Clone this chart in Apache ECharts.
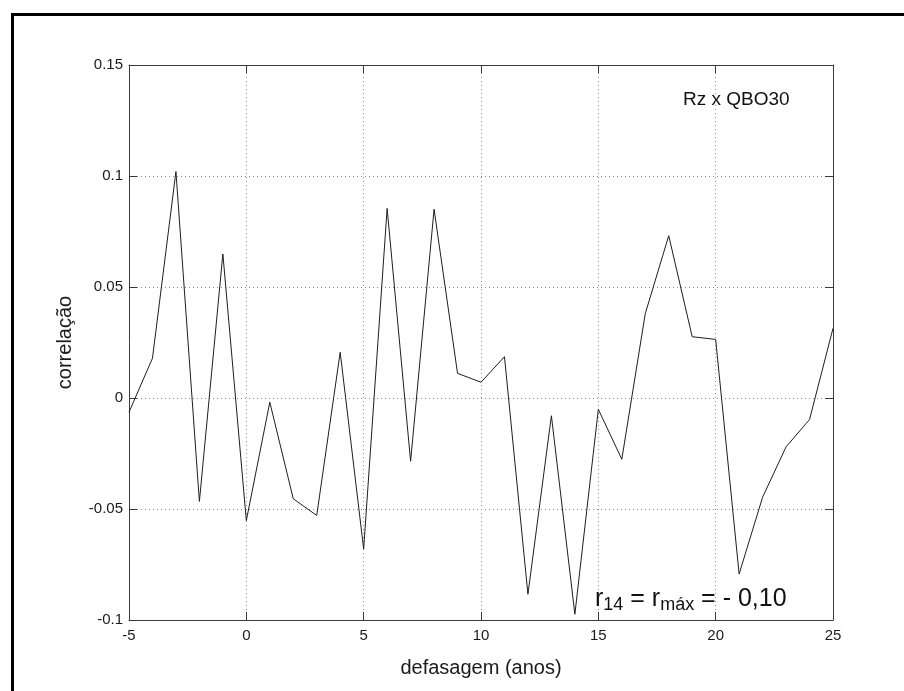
<!DOCTYPE html>
<html>
<head>
<meta charset="utf-8">
<script src="https://cdn.jsdelivr.net/npm/echarts@6/dist/echarts.min.js"></script>
<style>
html,body{margin:0;padding:0;background:#fff;}
#chart{width:904px;height:691px;}
</style>
</head>
<body>
<div id="chart"></div>
<script>
var lags = [-5,-4,-3,-2,-1,0,1,2,3,4,5,6,7,8,9,10,11,12,13,14,15,16,17,18,19,20,21,22,23,24,25];
var corr = [-0.0064,0.0179,0.102,-0.0466,0.0649,-0.0552,-0.0019,-0.0454,-0.0529,0.0206,-0.068,0.0854,-0.0285,0.085,0.0111,0.0071,0.0186,-0.0884,-0.008,-0.0974,-0.0051,-0.0276,0.038,0.0731,0.0276,0.0264,-0.0793,-0.0447,-0.022,-0.0097,0.0314];
var xTicks = [-5,0,5,10,15,20,25];
var yTicks = [-0.1,-0.05,0,0.05,0.1,0.15];
var seriesLabel = 'Rz x QBO30';
var xName = 'defasagem (anos)';
var yName = 'correla\u00e7\u00e3o';

var FONT = '"Liberation Sans", Arial, sans-serif';
var chart = echarts.init(document.getElementById('chart'));
var pairs = lags.map(function(l,i){return [l, corr[i]];});
function fmt(v){ return String(parseFloat(v.toFixed(2))); }
var axisLineStyle = {color:'#3a3a3a', width:1};
var grid = {left:129, top:65, right:71, bottom:71};
var baseX = {type:'value', min:xTicks[0], max:xTicks[xTicks.length-1], interval:5};
var baseY = {type:'value', min:yTicks[0], max:yTicks[yTicks.length-1], interval:0.05};
chart.setOption({
  animation:false,
  backgroundColor:'#fff',
  grid:grid,
  xAxis:[
    Object.assign({}, baseX, {
      position:'bottom',
      name:xName, nameLocation:'middle', nameGap:38,
      nameTextStyle:{fontFamily:FONT, fontSize:20, color:'#1a1a1a'},
      axisLine:{show:true, onZero:false, lineStyle:axisLineStyle},
      axisTick:{show:true, inside:true, length:8, lineStyle:axisLineStyle},
      axisLabel:{fontFamily:FONT, fontSize:15, color:'#1a1a1a', margin:8, formatter:fmt},
      splitLine:{show:true, lineStyle:{color:'#8a8a8a', type:[1,3], width:1}}
    }),
    Object.assign({}, baseX, {
      position:'top',
      axisLine:{show:true, onZero:false, lineStyle:axisLineStyle},
      axisTick:{show:true, inside:true, length:8, lineStyle:axisLineStyle},
      axisLabel:{show:false},
      splitLine:{show:false}
    })
  ],
  yAxis:[
    Object.assign({}, baseY, {
      position:'left',
      name:yName, nameLocation:'middle', nameGap:54,
      nameTextStyle:{fontFamily:FONT, fontSize:20, color:'#1a1a1a'},
      axisLine:{show:true, onZero:false, lineStyle:axisLineStyle},
      axisTick:{show:true, inside:true, length:8, lineStyle:axisLineStyle},
      axisLabel:{fontFamily:FONT, fontSize:15, color:'#1a1a1a', margin:6, formatter:fmt},
      splitLine:{show:true, lineStyle:{color:'#8a8a8a', type:[1,3], width:1}}
    }),
    Object.assign({}, baseY, {
      position:'right',
      axisLine:{show:true, onZero:false, lineStyle:axisLineStyle},
      axisTick:{show:true, inside:true, length:8, lineStyle:axisLineStyle},
      axisLabel:{show:false},
      splitLine:{show:false}
    })
  ],
  series:[{
    type:'line',
    name:seriesLabel,
    data:pairs,
    xAxisIndex:0, yAxisIndex:0,
    showSymbol:false,
    lineStyle:{color:'#1e1e1e', width:1},
    z:5
  }],
  graphic:[
    {type:'rect', left:10, top:12, shape:{x:0, y:0, width:1200, height:1200}, style:{fill:'none', stroke:'#000', lineWidth:3}, silent:true},
    {type:'text', x:683, y:100, style:{text:seriesLabel, font:'19px ' + FONT, fill:'#111', verticalAlign:'middle', align:'left'}},
    {type:'text', x:595, y:584, z:10, style:{
      text:'{m|r}{s|14}{m| = r}{s|m\u00e1x}{m| = - 0,10}',
      align:'left', verticalAlign:'top',
      rich:{
        m:{fontFamily:FONT, fontSize:25, lineHeight:30, verticalAlign:'middle', fill:'#111'},
        s:{fontFamily:FONT, fontSize:18, lineHeight:18, verticalAlign:'bottom', fill:'#111'}
      }
    }}
  ]
});
</script>
</body>
</html>
